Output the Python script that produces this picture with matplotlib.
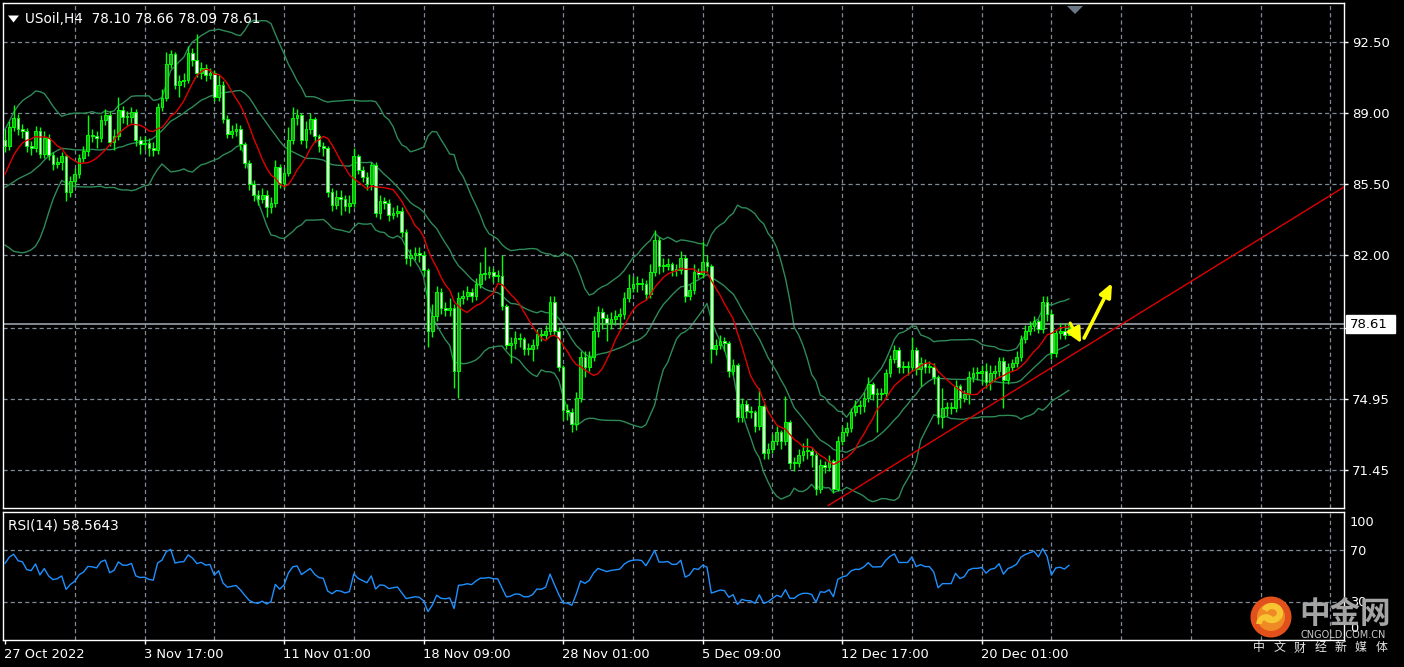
import numpy as np
import matplotlib
matplotlib.use("Agg")
import matplotlib.pyplot as plt
from matplotlib.patches import Rectangle, Circle, Polygon, Arc

plt.rcParams['lines.scale_dashes'] = False

# ---------------- data ----------------
symbol_header = "USoil,H4  78.10 78.66 78.09 78.61"
rsi_header = "RSI(14) 58.5643"
last_price = 78.61
first_open = 87.70

# closes before the first visible bar (implied by the indicator values at the left edge)
pre_close = [85.6, 85.9, 85.4, 86.0, 85.4, 85.0, 84.4, 83.5, 83.0, 82.9,
             83.4, 84.2, 84.8, 85.5, 86.1, 86.6, 86.9, 87.3, 87.7]

close = [87.40, 88.30, 88.75, 88.20, 88.10, 87.40, 87.30, 88.10, 87.00, 87.80,
         86.95, 86.50, 86.60, 86.90, 85.10, 85.65, 86.00, 86.80, 87.15, 87.95,
         87.90, 87.80, 88.65, 88.90, 87.60, 87.90, 89.15, 88.80, 88.80, 89.05,
         87.70, 87.50, 87.55, 87.30, 87.20, 89.30, 89.75, 91.40, 91.90, 90.40,
         90.60, 90.65, 91.95, 91.60, 91.00, 91.20, 90.90, 91.00, 89.80, 90.40,
         88.70, 88.00, 88.10, 88.20, 87.50, 86.55, 85.50, 85.00, 84.80, 85.00,
         84.40, 84.60, 86.35, 85.55, 86.05, 87.70, 88.75, 88.90, 87.70, 88.20,
         88.70, 87.90, 87.40, 87.30, 85.10, 84.50, 84.90, 84.80, 84.45, 84.60,
         86.90, 86.20, 85.85, 85.50, 86.45, 84.10, 84.70, 84.60, 84.00, 84.10,
         84.20, 83.15, 81.90, 82.00, 82.10, 82.00, 81.30, 78.30, 79.00, 80.20,
         79.40, 79.30, 79.40, 76.30, 79.90, 80.00, 80.20, 80.00, 80.60, 81.10,
         81.10, 81.20, 81.00, 81.00, 79.50, 77.60, 77.70, 77.95, 77.90, 77.40,
         77.40, 77.60, 78.15, 78.10, 78.30, 79.70, 78.30, 76.50, 74.40, 74.30,
         73.70, 75.00, 77.00, 76.50, 77.00, 78.30, 79.20, 78.95, 78.70, 78.90,
         79.00, 79.10, 79.90, 80.40, 80.60, 80.65, 80.60, 80.10, 81.20, 82.75,
         81.50, 81.50, 81.60, 81.30, 81.30, 81.90, 80.00, 80.30, 81.20, 81.10,
         81.70, 81.50, 77.40, 77.60, 77.80, 77.70, 76.30, 76.60, 74.05, 74.70,
         74.35, 74.30, 73.60, 74.60, 72.30, 72.50, 72.90, 73.30, 72.90, 73.80,
         71.80, 71.80, 72.20, 72.40, 72.40, 72.20, 70.50, 71.70, 71.60, 71.90,
         70.50, 72.90, 73.30, 73.50, 74.30, 74.60, 74.60, 75.00, 75.70, 75.20,
         75.20, 75.25, 76.20, 76.90, 77.35, 76.50, 76.50, 76.50, 77.35, 76.40,
         76.70, 76.50, 76.50, 76.00, 74.05, 74.50, 74.50, 74.50, 75.60, 75.00,
         75.20, 76.00, 76.20, 76.20, 76.30, 75.80, 76.20, 76.30, 76.80, 75.90,
         76.50, 76.70, 77.00, 77.90, 78.30, 78.55, 78.80, 78.40, 79.70, 79.10,
         77.20, 78.20, 78.30, 78.10, 78.61]

high = [88.20, 88.60, 89.40, 88.95, 88.45, 88.25, 87.65, 88.35, 88.30, 88.10,
        88.00, 87.10, 86.85, 87.10, 87.00, 85.90, 86.30, 87.00, 87.40, 88.90,
        88.20, 88.10, 88.90, 89.20, 89.10, 88.20, 89.80, 89.35, 89.10, 89.30,
        89.20, 87.90, 87.90, 87.80, 87.60, 89.50, 90.20, 92.00, 92.10, 92.00,
        90.90, 91.00, 92.30, 92.20, 92.90, 91.50, 91.40, 91.20, 91.10, 90.90,
        90.60, 88.90, 88.40, 88.50, 88.40, 87.60, 86.70, 85.70, 85.20, 85.30,
        85.20, 84.90, 86.70, 86.50, 86.30, 88.30, 89.30, 89.20, 89.00, 88.60,
        89.00, 88.80, 88.00, 87.60, 87.40, 85.30, 85.20, 85.20, 85.00, 85.00,
        87.30, 87.00, 86.40, 86.10, 86.60, 86.60, 85.00, 84.90, 84.80, 84.40,
        84.50, 84.40, 83.30, 82.30, 82.40, 82.40, 82.20, 81.40, 79.60, 80.50,
        80.40, 79.70, 79.90, 79.60, 80.20, 80.30, 80.50, 80.40, 80.90, 81.70,
        82.40, 81.50, 81.40, 81.30, 82.00, 79.60, 78.00, 78.30, 78.20, 78.00,
        77.70, 77.90, 78.40, 78.40, 78.60, 80.00, 80.00, 78.50, 76.60, 74.70,
        74.50, 75.30, 77.30, 77.30, 77.30, 79.00, 79.50, 79.40, 79.10, 79.20,
        79.30, 79.40, 80.20, 81.10, 81.00, 81.00, 80.90, 80.80, 81.60, 83.25,
        82.90, 81.90, 81.90, 81.70, 81.60, 82.20, 82.00, 80.60, 81.60, 81.40,
        82.70, 82.00, 81.60, 77.90, 78.10, 78.00, 77.80, 76.90, 76.70, 75.00,
        74.90, 74.60, 74.40, 75.50, 74.70, 72.80, 73.20, 73.60, 73.40, 75.10,
        73.90, 72.10, 72.50, 72.80, 73.00, 72.60, 72.40, 72.00, 71.90, 72.20,
        72.00, 73.10, 73.60, 73.80, 74.50, 74.90, 74.90, 75.30, 76.00, 75.80,
        75.50, 75.50, 76.40, 77.10, 77.60, 77.50, 76.80, 76.80, 78.00, 77.50,
        77.00, 76.90, 76.80, 76.70, 76.10, 75.50, 74.80, 74.80, 75.90, 75.70,
        75.40, 76.30, 76.50, 76.50, 76.60, 76.70, 76.60, 76.60, 77.00, 77.00,
        76.70, 76.90, 77.30, 78.10, 78.60, 78.80, 79.00, 78.90, 80.00, 80.00,
        79.30, 78.40, 78.70, 78.70, 78.66]

low = [87.10, 87.20, 88.10, 87.95, 87.80, 87.10, 86.95, 87.10, 86.80, 86.80,
       86.70, 86.20, 86.30, 86.20, 84.70, 84.90, 85.40, 85.80, 86.60, 86.90,
       87.60, 87.30, 87.60, 88.40, 87.40, 87.20, 87.70, 88.50, 88.40, 88.50,
       87.40, 87.00, 87.20, 86.90, 86.90, 87.00, 89.10, 89.60, 91.20, 90.20,
       89.80, 90.30, 90.50, 91.30, 90.80, 90.70, 90.60, 90.70, 89.60, 89.60,
       88.50, 87.80, 87.80, 87.90, 87.20, 86.30, 85.20, 84.70, 84.50, 84.60,
       83.90, 84.10, 84.40, 85.30, 85.30, 85.90, 87.50, 88.40, 87.50, 87.30,
       88.00, 87.60, 87.10, 86.90, 84.90, 84.20, 84.30, 84.00, 84.20, 84.10,
       84.40, 86.00, 85.60, 85.20, 85.20, 83.90, 83.80, 84.30, 83.70, 83.80,
       83.90, 82.90, 81.60, 81.50, 81.80, 81.70, 81.00, 77.50, 78.00, 78.80,
       79.10, 79.00, 79.00, 75.50, 75.00, 79.60, 79.80, 79.70, 79.80, 80.40,
       80.80, 80.90, 80.70, 80.70, 79.30, 77.40, 76.70, 77.40, 77.50, 77.10,
       77.10, 76.80, 77.40, 77.80, 77.90, 78.10, 78.10, 76.30, 73.90, 73.90,
       73.30, 73.40, 74.80, 76.00, 76.30, 76.80, 78.00, 78.40, 77.80, 78.40,
       78.60, 78.40, 78.90, 79.70, 80.20, 80.20, 80.30, 79.80, 79.90, 81.00,
       81.10, 81.20, 81.30, 81.00, 81.00, 81.10, 79.70, 79.80, 80.10, 80.90,
       80.90, 81.20, 76.70, 77.10, 77.40, 77.30, 76.00, 76.10, 73.80, 73.80,
       74.00, 74.00, 73.30, 73.40, 72.00, 72.00, 72.30, 72.70, 72.50, 72.70,
       71.50, 71.40, 71.60, 71.90, 72.00, 71.60, 70.20, 70.30, 71.30, 71.40,
       70.30, 70.40, 72.70, 73.10, 73.30, 74.10, 74.20, 74.30, 74.80, 74.90,
       73.30, 74.90, 75.00, 76.00, 76.70, 76.20, 76.20, 76.10, 76.30, 76.10,
       75.60, 76.20, 76.20, 75.70, 73.70, 73.50, 74.10, 74.20, 74.30, 74.50,
       74.80, 74.70, 75.80, 75.90, 75.70, 75.50, 75.40, 75.90, 76.00, 74.50,
       75.70, 76.30, 76.50, 76.80, 77.70, 78.10, 78.30, 78.20, 78.20, 78.80,
       76.90, 77.00, 77.90, 77.90, 78.09]

price_grid = [92.50, 89.00, 85.50, 82.00, 78.45, 74.95, 71.45]
price_labels = ["92.50", "89.00", "85.50", "82.00", "", "74.95", "71.45"]
date_ticks = [0, 32, 64, 96, 128, 160, 192, 224]
date_labels = ["27 Oct 2022", "3 Nov 17:00", "11 Nov 01:00", "18 Nov 09:00",
               "28 Nov 01:00", "5 Dec 09:00", "12 Dec 17:00", "20 Dec 01:00"]
vgrid_step = 16
rsi_levels = [70, 30]
rsi_axis_labels = ["100", "70", "30", "0"]
rsi_axis_values = [100, 70, 30, 0]

ma_period = 10
bb_period = 20
bb_dev = 2.0
rsi_period = 14

trend_pts = ((188.8, 69.70), (307.1, 85.37))
arrow_down = ((244.3, 78.68), (246.8, 77.70))
arrow_up = ((247.5, 77.94), (253.9, 80.65))

# ---------------- indicators ----------------
allc = np.array(pre_close + close, dtype=float)
npre = len(pre_close)

def rolling_mean(a, w):
    out = np.full(len(a), np.nan)
    for k in range(w - 1, len(a)):
        out[k] = a[k - w + 1:k + 1].mean()
    return out

def rolling_std(a, w):
    out = np.full(len(a), np.nan)
    for k in range(w - 1, len(a)):
        out[k] = a[k - w + 1:k + 1].std()
    return out

ma = rolling_mean(allc, ma_period)[npre:]
mid = rolling_mean(allc, bb_period)
sd = rolling_std(allc, bb_period)
upper = (mid + bb_dev * sd)[npre:]
lower = (mid - bb_dev * sd)[npre:]
mid = mid[npre:]

d = np.diff(allc)
gain = np.clip(d, 0, None)
loss = np.clip(-d, 0, None)
ag = np.full(len(allc), np.nan)
al = np.full(len(allc), np.nan)
ag[rsi_period] = gain[:rsi_period].mean()
al[rsi_period] = loss[:rsi_period].mean()
for k in range(rsi_period + 1, len(allc)):
    ag[k] = (ag[k - 1] * (rsi_period - 1) + gain[k - 1]) / rsi_period
    al[k] = (al[k - 1] * (rsi_period - 1) + loss[k - 1]) / rsi_period
rsi = (100 - 100 / (1 + ag / al))[npre:]

# ---------------- figure ----------------
W, H = 1404, 667
fig = plt.figure(figsize=(W / 100, H / 100), dpi=100, facecolor='black')

def frect(x0, y0, x1, y1):
    return [x0 / W, 1 - y1 / H, (x1 - x0) / W, (y1 - y0) / H]

ax = fig.add_axes(frect(3, 3, 1344, 508))
axr = fig.add_axes(frect(3, 512, 1344, 640))
XL = (-0.46, 307.1)
GRID = '#7f8998'
DASH = (0, (3.0, 2.2))
FONT = 'DejaVu Sans'

for a in (ax, axr):
    a.set_facecolor('black')
    a.set_xlim(*XL)
    for s in a.spines.values():
        s.set_color('white')
        s.set_linewidth(1.0)
    for gx in range(vgrid_step, int(XL[1]) + 1, vgrid_step):
        a.axvline(gx, color=GRID, lw=0.9, ls=DASH, zorder=1)

ax.set_ylim(69.58, 94.42)
for gy in price_grid:
    ax.axhline(gy, color=GRID, lw=0.9, ls=DASH, zorder=1)

ax.set_xticks([])
ax.yaxis.tick_right()
ax.set_yticks(price_grid)
ax.set_yticklabels(price_labels, fontfamily=FONT)
ax.tick_params(axis='y', length=3, width=1, color='white', labelcolor='white',
               labelsize=9.5, pad=2.5)

n = len(close)
x = np.arange(n)
c = np.array(close)
o = np.array([first_open] + close[:-1])
hi = np.array(high)
lo = np.array(low)
bull = c >= o

# Bollinger bands and moving average
band_col = '#2e8a58'
ax.plot(x, upper, color=band_col, lw=1.0, zorder=2)
ax.plot(x, mid, color=band_col, lw=1.0, zorder=2)
ax.plot(x, lower, color=band_col, lw=1.0, zorder=2)

# candles
ax.vlines(x, lo, hi, color='#00ff00', lw=1.0, zorder=3)
bb = np.minimum(o, c)
bh = np.maximum(np.abs(c - o), 0.05)
ax.bar(x[bull], bh[bull], bottom=bb[bull], width=0.62, color='#15a515',
       edgecolor='#00ff00', linewidth=0.7, zorder=4)
ax.bar(x[~bull], bh[~bull], bottom=bb[~bull], width=0.62, color='white',
       edgecolor='#00ff00', linewidth=0.7, zorder=4)

ax.plot(x, ma, color='#e00000', lw=1.0, zorder=5)

# current price line
ax.axhline(last_price, color='#8e959e', lw=1.3, zorder=2)

# trendline
ax.plot([trend_pts[0][0], trend_pts[1][0]], [trend_pts[0][1], trend_pts[1][1]],
        color='#e00000', lw=1.0, zorder=6)

# yellow arrows
ax.annotate('', xy=arrow_down[1], xytext=arrow_down[0],
            arrowprops=dict(arrowstyle='-|>,head_width=0.45,head_length=0.9',
                            color='#ffff00', lw=2.2, shrinkA=0, shrinkB=0), zorder=7)
ax.annotate('', xy=arrow_up[1], xytext=arrow_up[0],
            arrowprops=dict(arrowstyle='-|>,head_width=0.35,head_length=0.8',
                            color='#ffff00', lw=2.6, shrinkA=0, shrinkB=0), zorder=7)

# last price box on the axis
ytr = ax.get_yaxis_transform()
ax.add_patch(Rectangle((1.0015, last_price - 0.44), 0.0365, 0.88, transform=ytr,
                       facecolor='white', edgecolor='white', clip_on=False, zorder=10))
ax.text(1.0045, last_price, "78.61", transform=ytr, color='black', fontsize=9.5,
        fontfamily=FONT, va='center', ha='left', clip_on=False, zorder=11)

# ---------------- RSI ----------------
axr.set_ylim(0, 100)
for lv in rsi_levels:
    axr.axhline(lv, color=GRID, lw=0.9, ls=DASH, zorder=1)
axr.plot(x, rsi, color='#1e90ff', lw=1.0, zorder=3)
axr.set_yticks([])
axr.set_xticks(date_ticks)
axr.set_xticklabels([''] * len(date_ticks))
axr.tick_params(axis='x', length=3, width=1, color='white', direction='out')
xtr = axr.get_xaxis_transform()
for t, lab in zip(date_ticks, date_labels):
    axr.text(t - 0.2, -0.11, lab, transform=xtr, color='white', fontsize=9.4,
             fontfamily=FONT, ha='left', va='center', clip_on=False)

rtr = axr.get_yaxis_transform()
rsi_label_offset = {100: -8, 70: -1, 30: -1, 0: 9}
for lab, v in zip(rsi_axis_labels, rsi_axis_values):
    axr.text(1.0045, v + rsi_label_offset[v], lab, transform=rtr, color='white',
             fontsize=9.3, fontfamily=FONT, va='center', ha='left', clip_on=False)
axr.text(0.0037, 0.895, rsi_header, transform=axr.transAxes, color='white',
         fontsize=9.8, fontfamily=FONT, va='center', ha='left')

# ---------------- overlay (header, markers, watermark) ----------------
ov = fig.add_axes([0, 0, 1, 1], zorder=20)
ov.set_xlim(0, W)
ov.set_ylim(H, 0)
ov.axis('off')
ov.patch.set_alpha(0)

ov.add_patch(Polygon([(8, 15.5), (19, 15.5), (13.5, 22.5)], closed=True,
                     facecolor='white', edgecolor='none'))
ov.text(25, 19, symbol_header, color='white', fontsize=9.8, fontfamily=FONT,
        va='center', ha='left')
ov.add_patch(Polygon([(1067, 6), (1083, 6), (1075, 14)], closed=True,
                     facecolor='#6a7888', edgecolor='none'))

# watermark logo
ov.add_patch(Circle((1271, 617), 20.5, facecolor='#e2501c', edgecolor='none'))
ov.add_patch(Circle((1271, 617), 14, facecolor='#f08a24', edgecolor='none'))
ov.add_patch(Arc((1272, 613), 16, 14, theta1=200, theta2=520, color='#f7c531', lw=4.5))
ov.add_patch(Arc((1266, 624), 14, 14, theta1=180, theta2=330, color='#f7c531', lw=4.0))
ov.text(1345, 614, "中金网", color='#a4a4a4', fontsize=22,
        fontfamily=['Noto Sans CJK SC', 'DejaVu Sans'], fontweight='bold',
        ha='center', va='center')
ov.text(1343, 635.5, "CNGOLD.COM.CN", color='#c8c8c8', fontsize=7.0,
        fontfamily=FONT, ha='center', va='center')
for k, ch in enumerate("中文财经新媒体"):
    ov.text(1259 + 20.4 * k, 648, ch, color='#e6e6e6', fontsize=8.6,
            fontfamily=['Noto Sans CJK SC', 'DejaVu Sans'], ha='center', va='center')

fig.savefig('out.png', dpi=100, facecolor='black')
